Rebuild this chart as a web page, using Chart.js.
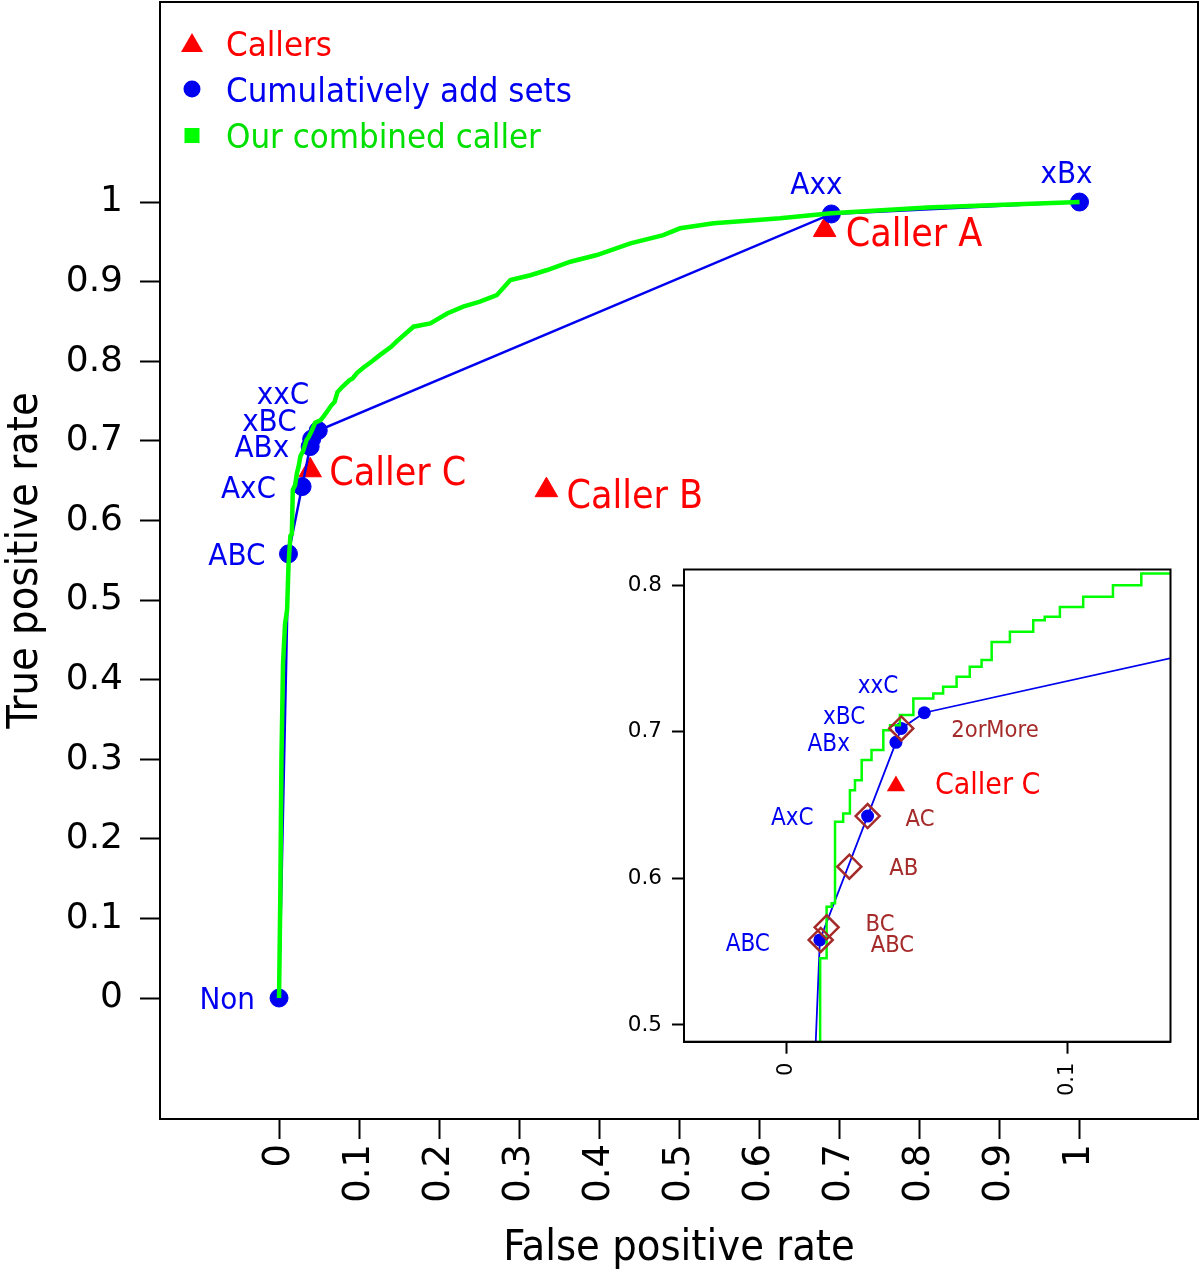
<!DOCTYPE html>
<html>
<head>
<meta charset="utf-8">
<script src="https://cdn.jsdelivr.net/npm/chart.js@4.4.1/dist/chart.umd.min.js"></script>
<style>
  html, body { margin: 0; padding: 0; background: #ffffff; }
  #wrap { position: relative; width: 1200px; height: 1279px; overflow: hidden; background: #fff; }
  canvas { position: absolute; }
</style>
</head>
<body>
<div id="wrap">
  <canvas id="main" width="1200" height="1279" style="left:0;top:0;width:1200px;height:1279px"></canvas>
  <canvas id="inset" width="610" height="560" style="left:590px;top:555px;width:610px;height:560px"></canvas>
</div>
<script>
// ---------------- DATA ----------------
// Cumulatively added sets (blue)
const setNames = ['Non', 'ABC', 'AxC', 'ABx', 'xBC', 'xxC', 'Axx', 'xBx'];
const setFPR   = [0, 0.0118, 0.0288, 0.0389, 0.0408, 0.049, 0.69, 1.0];
const setTPR   = [0, 0.558, 0.6425, 0.6928, 0.7023, 0.713, 0.985, 1.0];

// Individual callers (red triangles)
const callerNames = ['Caller A', 'Caller B', 'Caller C'];
const callerFPR   = [0.6816, 0.334, 0.0389];
const callerTPR   = [0.9648, 0.638, 0.663];

// Vote combinations shown in the inset (brown diamonds)
const comboNames = ['ABC', 'BC', 'AB', 'AC', '2orMore'];
const comboFPR   = [0.0121, 0.0142, 0.0223, 0.0288, 0.0408];
const comboTPR   = [0.558, 0.5666, 0.608, 0.6425, 0.7023];

// Our combined caller ROC curve (green)
const combinedFPR = [0, 0.0015, 0.003, 0.005, 0.0075, 0.0101, 0.0119, 0.0142, 0.016, 0.0172,
  0.0201, 0.0225, 0.0243, 0.0267, 0.0302, 0.0344, 0.0368, 0.0403, 0.0451, 0.0522,
  0.0557, 0.0605, 0.0652, 0.0694, 0.073, 0.0795, 0.0878, 0.0919, 0.0973, 0.1056,
  0.1162, 0.1263, 0.14, 0.147, 0.168, 0.189, 0.21, 0.23, 0.251, 0.272,
  0.289, 0.314, 0.335, 0.364, 0.397, 0.439, 0.48, 0.501, 0.543, 0.585,
  0.626, 0.69, 0.81, 1.0];
const combinedTPR = [0, 0.12, 0.3, 0.42, 0.47, 0.488, 0.5455, 0.5807, 0.583, 0.6386,
  0.6443, 0.6602, 0.667, 0.6807, 0.6875, 0.7011, 0.7045, 0.7114, 0.7227, 0.7262,
  0.7307, 0.7375, 0.7443, 0.7489, 0.7613, 0.7682, 0.7761, 0.7784, 0.7852, 0.7921,
  0.8, 0.808, 0.818, 0.825, 0.8434, 0.8476, 0.86, 0.8685, 0.8748, 0.883,
  0.902, 0.908, 0.9146, 0.925, 0.9334, 0.948, 0.9585, 0.967, 0.9733, 0.9765,
  0.9795, 0.986, 0.993, 1.0];

// Tick values / labels
const mainXTicks = [0, 0.1, 0.2, 0.3, 0.4, 0.5, 0.6, 0.7, 0.8, 0.9, 1];
const mainXTickLabels = ['0', '0.1', '0.2', '0.3', '0.4', '0.5', '0.6', '0.7', '0.8', '0.9', '1'];
const mainYTicks = [0, 0.1, 0.2, 0.3, 0.4, 0.5, 0.6, 0.7, 0.8, 0.9, 1];
const mainYTickLabels = ['0', '0.1', '0.2', '0.3', '0.4', '0.5', '0.6', '0.7', '0.8', '0.9', '1'];
const insetXTicks = [0, 0.1];
const insetXTickLabels = ['0', '0.1'];
const insetYTicks = [0.5, 0.6, 0.7, 0.8];
const insetYTickLabels = ['0.5', '0.6', '0.7', '0.8'];

const legendLabels = ['Callers', 'Cumulatively add sets', 'Our combined caller'];
const xTitle = 'False positive rate';
const yTitle = 'True positive rate';

// ---------------- STYLE ----------------
const FONT = "'DejaVu Sans Condensed', 'DejaVu Sans', sans-serif";
const TICKFONT = "'DejaVu Sans', sans-serif";
const RED = '#ff0000', BLUE = '#0000f0', GREEN = '#00ff00', GREEN_TXT = '#00e000', BROWN = '#a52a2a';

function pts(xs, ys) { return xs.map((x, i) => ({ x: x, y: ys[i] })); }

// label offsets (pixels from the point; anchor/align)
const mainSetLabelPos = [
  { dx: -24, dy: 0, align: 'right' }, { dx: -23, dy: 0, align: 'right' },
  { dx: -26, dy: 0, align: 'right' }, { dx: -21, dy: -1, align: 'right' },
  { dx: -15, dy: -19, align: 'right' }, { dx: -9, dy: -38, align: 'right' },
  { dx: -15, dy: -31, align: 'center' }, { dx: -13, dy: -30, align: 'center' }
];
const mainCallerLabelPos = [
  { dx: 21, dy: 2, align: 'left' }, { dx: 20, dy: 4, align: 'left' }, { dx: 19, dy: 0, align: 'left' }
];
const insetSetLabelPos = [
  null, { dx: -50, dy: 2, align: 'right' }, { dx: -54, dy: 0, align: 'right' },
  { dx: -46, dy: 0, align: 'right' }, { dx: -36, dy: -13, align: 'right' },
  { dx: -26, dy: -28, align: 'right' }, null, null
];
const insetCallerLabelPos = [null, null, { dx: 39, dy: -3, align: 'left' }];
const insetComboLabelPos = [
  { dx: 50, dy: 3, align: 'left' }, { dx: 39, dy: -5, align: 'left' },
  { dx: 40, dy: 0, align: 'left' }, { dx: 38, dy: 1, align: 'left' },
  { dx: 50, dy: 0, align: 'left' }
];

function buildLabels(names, xs, ys, pos, size, color) {
  const out = [];
  names.forEach((n, i) => {
    if (!pos[i]) return;
    out.push({ text: n, x: xs[i], y: ys[i], dx: pos[i].dx, dy: pos[i].dy, align: pos[i].align, size: size, color: color });
  });
  return out;
}

const pointLabelPlugin = {
  id: 'pointLabels',
  afterDatasetsDraw(chart, args, opts) {
    const ctx = chart.ctx, xs = chart.scales.x, ys = chart.scales.y;
    ctx.save();
    for (const L of opts.items || []) {
      const px = xs.getPixelForValue(L.x) + L.dx;
      const py = ys.getPixelForValue(L.y) + L.dy;
      ctx.font = L.size + 'px ' + FONT;
      ctx.fillStyle = L.color;
      ctx.textAlign = L.align;
      ctx.textBaseline = 'alphabetic';
      ctx.fillText(L.text, px, py + 0.365 * L.size);
    }
    ctx.restore();
  }
};

const frameBoxPlugin = {
  id: 'frameBox',
  beforeDatasetsDraw(chart, args, opts) {
    if (!opts.fillWhite) return;
    const a = chart.chartArea, ctx = chart.ctx;
    ctx.save(); ctx.fillStyle = '#fff';
    ctx.fillRect(a.left, a.top, a.right - a.left, a.bottom - a.top);
    ctx.restore();
  },
  afterDraw(chart, args, opts) {
    const a = chart.chartArea, ctx = chart.ctx;
    ctx.save();
    ctx.strokeStyle = '#000'; ctx.lineWidth = opts.width || 2;
    ctx.strokeRect(a.left, a.top, a.right - a.left, a.bottom - a.top);
    ctx.restore();
  }
};

const legendPlugin = {
  id: 'manualLegend',
  afterDraw(chart, args, opts) {
    if (!opts.show) return;
    const ctx = chart.ctx;
    ctx.save();
    ctx.fillStyle = RED;
    ctx.beginPath(); ctx.moveTo(192, 33); ctx.lineTo(181, 52); ctx.lineTo(203, 52); ctx.closePath(); ctx.fill();
    ctx.fillStyle = BLUE;
    ctx.beginPath(); ctx.arc(192, 89, 8.5, 0, Math.PI * 2); ctx.fill();
    ctx.fillStyle = GREEN;
    ctx.fillRect(184.5, 128, 15, 15);
    const size = 34.5;
    ctx.font = size + 'px ' + FONT;
    ctx.textAlign = 'left'; ctx.textBaseline = 'alphabetic';
    const cols = [RED, BLUE, GREEN_TXT], ys = [43, 89, 135];
    legendLabels.forEach((t, i) => { ctx.fillStyle = cols[i]; ctx.fillText(t, 226, ys[i] + 0.365 * size); });
    ctx.restore();
  }
};

Chart.register(pointLabelPlugin, frameBoxPlugin, legendPlugin);

function axis(opts) {
  return {
    type: 'linear',
    position: opts.position,
    min: opts.min, max: opts.max,
    afterFit: s => {
      opts.afterFit(s);
      s.paddingTop = 0; s.paddingBottom = 0; s.paddingLeft = 0; s.paddingRight = 0;
    },
    afterBuildTicks: s => { s.ticks = opts.ticks.map(v => ({ value: v })); },
    border: { display: true, color: '#000', width: 2 },
    grid: { drawOnChartArea: false, drawTicks: true, tickLength: opts.tickLength, tickColor: '#000', tickWidth: 2 },
    ticks: {
      autoSkip: false, includeBounds: false,
      color: '#000', padding: opts.padding,
      font: { family: TICKFONT, size: opts.fontSize },
      minRotation: opts.rot || 0, maxRotation: opts.rot || 0,
      callback: (v, i) => opts.labels[i]
    },
    title: opts.title ? { display: true, text: opts.title, color: '#000', font: { family: FONT, size: opts.titleSize }, padding: opts.titlePad } : { display: false }
  };
}

// ---------------- MAIN CHART ----------------
new Chart(document.getElementById('main'), {
  type: 'scatter',
  data: {
    datasets: [
      { label: 'Our combined caller', data: pts(combinedFPR, combinedTPR), showLine: true, stepped: false,
        borderColor: GREEN, borderWidth: 4.5, pointRadius: 0, fill: false, tension: 0 },
      { label: 'Cumulatively add sets', data: pts(setFPR, setTPR), showLine: true,
        borderColor: BLUE, borderWidth: 2.5, pointRadius: 9, pointBackgroundColor: BLUE, pointBorderColor: BLUE, pointBorderWidth: 1 },
      { label: 'Callers', data: pts(callerFPR, callerTPR), showLine: false, pointStyle: 'triangle',
        pointRadius: 13, pointBackgroundColor: RED, pointBorderColor: RED, pointBorderWidth: 1 }
    ]
  },
  options: {
    responsive: false, animation: false, devicePixelRatio: 1,
    layout: { autoPadding: false, padding: { left: 0, top: 2, right: 2, bottom: 0 } },
    scales: {
      x: axis({ position: 'bottom', min: -0.1487, max: 1.148, ticks: mainXTicks, labels: mainXTickLabels,
        afterFit: s => { s.height = 160; }, tickLength: 20, padding: 5, fontSize: 37, rot: 90,
        title: xTitle, titleSize: 43, titlePad: { top: 0, bottom: 4 } }),
      y: axis({ position: 'left', min: -0.152, max: 1.2513, ticks: mainYTicks, labels: mainYTickLabels,
        afterFit: s => { s.width = 160; }, tickLength: 20, padding: 17, fontSize: 36,
        title: yTitle, titleSize: 43, titlePad: { top: 0, bottom: 0 } })
    },
    plugins: {
      legend: { display: false }, tooltip: { enabled: false },
      frameBox: { width: 2 },
      manualLegend: { show: true },
      pointLabels: { items: [].concat(
        buildLabels(setNames, setFPR, setTPR, mainSetLabelPos, 31, BLUE),
        buildLabels(callerNames, callerFPR, callerTPR, mainCallerLabelPos, 39, RED)) }
    }
  }
});

// ---------------- INSET CHART ----------------
new Chart(document.getElementById('inset'), {
  type: 'scatter',
  data: {
    datasets: [
      { label: 'combos', data: pts(comboFPR, comboTPR), showLine: false, pointStyle: 'rectRot',
        pointRadius: 12, pointBackgroundColor: 'rgba(0,0,0,0)', pointBorderColor: BROWN, pointBorderWidth: 2.5 },
      { label: 'Our combined caller', data: pts(combinedFPR, combinedTPR), showLine: true, stepped: 'before',
        borderColor: GREEN, borderWidth: 2.5, pointRadius: 0, fill: false },
      { label: 'Cumulatively add sets', data: pts(setFPR, setTPR), showLine: true,
        borderColor: BLUE, borderWidth: 1.8, pointRadius: 6.5, pointBackgroundColor: BLUE, pointBorderColor: BLUE, pointBorderWidth: 0 },
      { label: 'Callers', data: pts(callerFPR, callerTPR), showLine: false, pointStyle: 'triangle',
        pointRadius: 10.5, pointBackgroundColor: RED, pointBorderColor: RED, pointBorderWidth: 0 }
    ]
  },
  options: {
    responsive: false, animation: false, devicePixelRatio: 1,
    layout: { autoPadding: false, padding: { left: 0, top: 14.5, right: 29.5, bottom: 0 } },
    scales: {
      x: axis({ position: 'bottom', min: -0.0366, max: 0.1367, ticks: insetXTicks, labels: insetXTickLabels,
        afterFit: s => { s.height = 73.3; }, tickLength: 12, padding: 9, fontSize: 21, rot: 90 }),
      y: axis({ position: 'left', min: 0.4886, max: 0.8107, ticks: insetYTicks, labels: insetYTickLabels,
        afterFit: s => { s.width = 94; }, tickLength: 12, padding: 10, fontSize: 21.5 })
    },
    plugins: {
      legend: { display: false }, tooltip: { enabled: false },
      frameBox: { width: 2, fillWhite: true },
      manualLegend: { show: false },
      pointLabels: { items: [].concat(
        buildLabels(setNames, setFPR, setTPR, insetSetLabelPos, 24, BLUE),
        buildLabels(callerNames, callerFPR, callerTPR, insetCallerLabelPos, 30, RED),
        buildLabels(comboNames, comboFPR, comboTPR, insetComboLabelPos, 23.5, BROWN)) }
    }
  }
});
</script>
</body>
</html>
